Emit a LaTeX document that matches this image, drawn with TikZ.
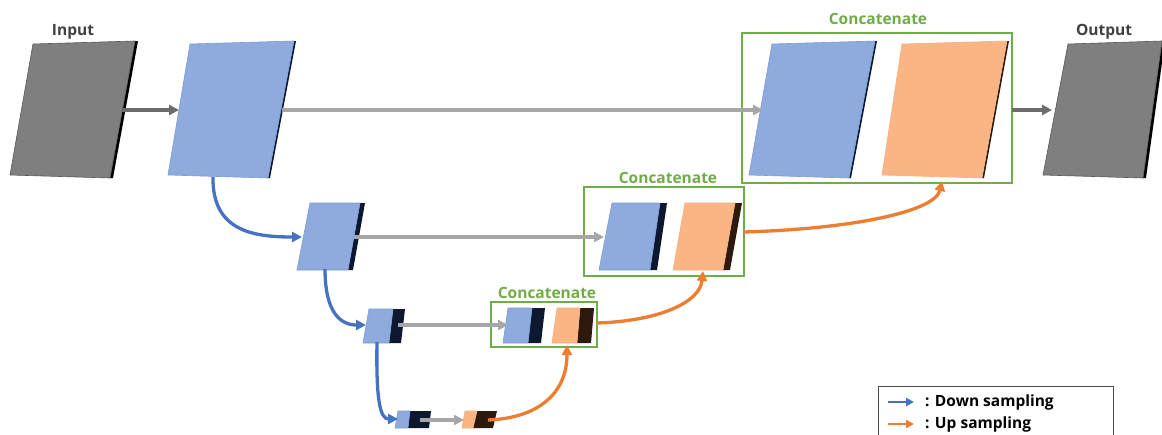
\documentclass[tikz,border=0pt]{standalone}
\usepackage{fontspec}
\setmainfont{Open Sans}
\usetikzlibrary{arrows.meta,calc}
\definecolor{sblue}{HTML}{8FAADC}
\definecolor{eblue}{HTML}{4472C4}
\definecolor{dnavy}{HTML}{0B1830}
\definecolor{sorange}{HTML}{F9B584}
\definecolor{eorange}{HTML}{ED7D31}
\definecolor{dbrown}{HTML}{2E1A0C}
\definecolor{sgray}{HTML}{7F7F7F}
\definecolor{lgray}{HTML}{A6A6A6}
\definecolor{dgray}{HTML}{6E6B6B}
\definecolor{cgreen}{HTML}{70AD47}
\definecolor{tgray}{HTML}{404040}
\tikzset{
  bluef/.style={fill=sblue, draw=eblue!70, line width=0.6pt},
  blues/.style={fill=dnavy},
  orangef/.style={fill=sorange, draw=eorange!60, line width=0.6pt},
  oranges/.style={fill=dbrown},
  grayf/.style={fill=sgray, draw=sgray!70!black, line width=0.6pt},
  grays/.style={fill=black},
  tipA/.style={-{Triangle[length=10pt,width=10pt]}},
  lightarrow/.style={tipA, draw=lgray, line width=3.3pt},
  darkarrow/.style={tipA, draw=dgray, line width=3.3pt},
  downarrow/.style={tipA, draw=eblue, line width=3.3pt},
  uparrow/.style={tipA, draw=eorange, line width=3.3pt},
  concatbox/.style={draw=cgreen, line width=2.4pt},
  lbl/.style={font=\fontsize{15.5}{18}\selectfont\bfseries, inner sep=0pt},
}
\newcommand{\slab}[6]{%
  \fill[#1s] (#3) -- ($(#3)+(#6,0)$) -- ($(#4)+(#6,0)$) -- (#4) -- cycle;
  \filldraw[#1f] (#2) -- (#3) -- (#4) -- (#5) -- cycle;}
\begin{document}
\begin{tikzpicture}[x=1pt,y=-1pt]
\useasboundingbox (0,0) rectangle (1162,434);
\clip (0,0) rectangle (1162,434);
\fill[white] (0,0) rectangle (1162,434);

% labels
\node[lbl, text=tgray] (inlbl) at (73,32) {Input};
\node[lbl, text=tgray] (outlbl) at (1104,32) {Output};
\node[lbl, text=cgreen] (c1lbl) at (878,19) {Concatenate};
\node[lbl, text=cgreen] (c2lbl) at (668,178) {Concatenate};
\node[lbl, text=cgreen] (c3lbl) at (547,293) {Concatenate};

% concat boxes
\draw[concatbox] (742,33) rectangle (1012,183);
\draw[concatbox] (584,187) rectangle (744,276);
\draw[concatbox] (491,302) rectangle (597,347);

% slabs level 1
\slab{gray}{33,44}{135,41}{110,178}{10,175}{3}
\slab{blue}{190,44}{294,41}{268,178}{168,175}{2}
\slab{blue}{772,44}{875,41}{849,178}{749,175}{2}
\slab{orange}{902,44}{1007,41}{982,178}{882,175}{2}
\slab{gray}{1068,44}{1162,41}{1143,178}{1043,175}{3}
% level 2
\slab{blue}{310,203}{360,203}{348,270}{297,270}{5}
\slab{blue}{612,203}{660,203}{650,270}{599,270}{7}
\slab{orange}{685,203}{735,203}{723,270}{673,270}{7}
% level 3
\slab{blue}{369,309}{393,309}{389,343}{363,343}{12}
\slab{blue}{508,308}{532,308}{528,343}{503,343}{13}
\slab{orange}{557,308}{580,308}{577,343}{552,343}{14}
% level 4
\slab{blue}{398,411}{410,411}{408,428}{395,428}{21}
\slab{orange}{465,411}{477,411}{473,428}{462,428}{20}

% connector endpoints
\coordinate (in-r) at (122,110);
\coordinate (b1-l) at (179,110);
\coordinate (b1-r) at (282,110);
\coordinate (c1-l) at (763,110);
\coordinate (c1-r) at (1012,110);
\coordinate (out-l) at (1052,110);
\coordinate (b1-b) at (213,177);
\coordinate (b2-l) at (302,237);
\coordinate (b2-r) at (354,237);
\coordinate (c2-l) at (604,237);
\coordinate (b2-b) at (325,269);
\coordinate (b3-l) at (366,325);
\coordinate (b3-r) at (398,325);
\coordinate (c3-l) at (508,325);
\coordinate (b3-b) at (377,342);
\coordinate (b4-l) at (398,419);
\coordinate (b4-r) at (420,420);
\coordinate (o4-l) at (464,420);
\coordinate (o4-r) at (488,420);
\coordinate (o3-b) at (567,345);
\coordinate (c3-r) at (597,323);
\coordinate (o2-b) at (703,271);
\coordinate (c2-r) at (744,232);
\coordinate (o1-b) at (942,181);

% straight arrows
\draw[darkarrow] (in-r) -- (b1-l);
\draw[lightarrow] (b1-r) -- (c1-l);
\draw[darkarrow] (c1-r) -- (out-l);
\draw[lightarrow] (b2-r) -- (c2-l);
\draw[lightarrow] (b3-r) -- (c3-l);
\draw[lightarrow] (b4-r) -- (o4-l);

% down sampling
\draw[downarrow] (b1-b) .. controls (212,232) and (255,237) .. (b2-l);
\draw[downarrow] (b2-b) .. controls (325,312) and (340,325) .. (b3-l);
\draw[downarrow] (b3-b) .. controls (376,400) and (380,419) .. (b4-l);

% up sampling
\draw[uparrow] (o4-r) .. controls (540,418) and (567,392) .. (o3-b);
\draw[uparrow] (c3-r) .. controls (660,321) and (700,302) .. (o2-b);
\draw[uparrow] (c2-r) .. controls (850,229) and (935,212) .. (o1-b);

% legend
\draw[line width=0.9pt, draw=black!70] (878,386) rectangle (1113,450);
\coordinate (lg1a) at (888,402);
\coordinate (lg1b) at (914,402);
\coordinate (lg2a) at (888,424);
\coordinate (lg2b) at (914,424);
\draw[-{Triangle[length=8pt,width=8pt]}, draw=eblue, line width=2.6pt] (lg1a) -- (lg1b);
\draw[-{Triangle[length=8pt,width=8pt]}, draw=eorange, line width=2.6pt] (lg2a) -- (lg2b);
\node[lbl, anchor=west, text=black] (lgt1) at (925,402) {: Down sampling};
\node[lbl, anchor=west, text=black] (lgt2) at (925,424) {: Up sampling};
\end{tikzpicture}
\end{document}
